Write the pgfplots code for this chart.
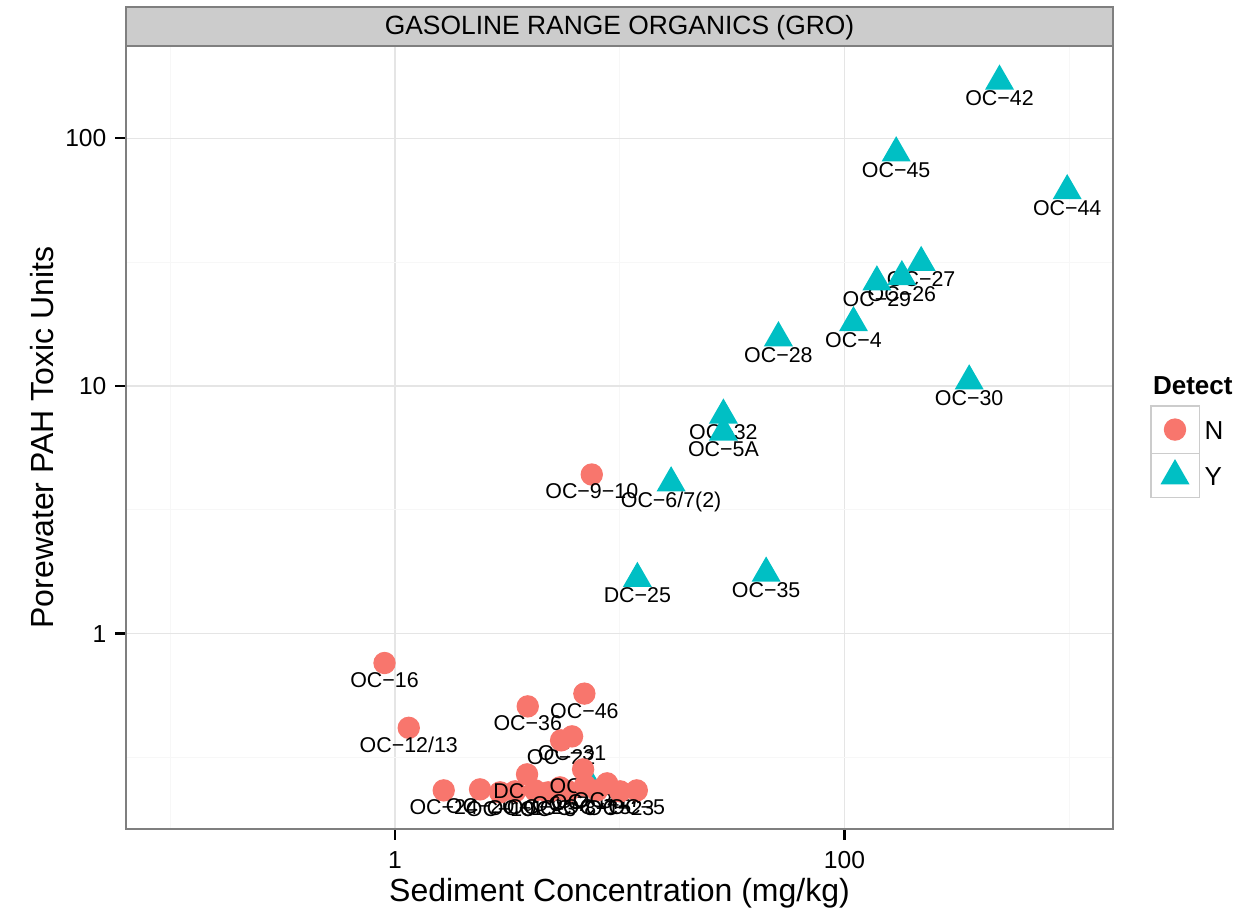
\documentclass[border=0pt]{standalone}
\usepackage{fontspec}
\setmainfont{Liberation Sans}
\usepackage{pgfplots}
\pgfplotsset{compat=1.18}
\definecolor{gN}{HTML}{F8766D}
\definecolor{gY}{HTML}{00BFC4}
\definecolor{grey50}{HTML}{7F7F7F}
\definecolor{grey80}{HTML}{CCCCCC}
\definecolor{grey90}{HTML}{E5E5E5}
\definecolor{grey98}{HTML}{F7F7F7}
\pgfdeclareplotmark{gcirc}{\pgfpathcircle{\pgfpointorigin}{5.6bp}\pgfusepathqfill}
\pgfdeclareplotmark{gtri}{\pgfpathmoveto{\pgfpoint{0bp}{8.4bp}}\pgfpathlineto{\pgfpoint{-7.25bp}{-4.2bp}}\pgfpathlineto{\pgfpoint{7.25bp}{-4.2bp}}\pgfpathclose\pgfusepathqfill}
\newcommand{\lbl}{\fontsize{10.7bp}{12bp}\selectfont}
\begin{document}
\begin{tikzpicture}
% facet strip
\filldraw[fill=grey80, draw=grey50, line width=1bp] (0bp,391.5bp) rectangle (493.5bp,410.75bp);
\node[anchor=base, inner sep=0pt, font=\fontsize{13.2bp}{15bp}\selectfont] at (246.75bp,397bp) {GASOLINE RANGE ORGANICS (GRO)};
\begin{axis}[
  at={(0,0)}, anchor=south west,
  scale only axis, width=493.5bp, height=391.5bp,
  xmode=log, ymode=log,
  xmin=0.0635, xmax=1567, ymin=0.1625, ymax=236,
  xtick={1,100}, xticklabels={1,100},
  ytick={1,10,100}, yticklabels={1,10,100},
  minor xtick={0.1,10,1000}, minor ytick={0.31623,3.1623,31.623},
  grid=both,
  major grid style={draw=grey90, line width=0.55bp},
  minor grid style={draw=grey98, line width=0.5bp},
  tick align=outside, major tick length=5.3bp, minor tick length=0pt,
  xtick pos=left, ytick pos=left,
  tick style={black, line width=1.1bp},
  axis line style={draw=grey50, line width=1.1bp},
  ticklabel style={font=\fontsize{12.3bp}{14bp}\selectfont},
  xticklabel style={yshift=-2.5bp},
  yticklabel style={xshift=-1bp},
  point meta=explicit symbolic,
  nodes near coords,
  nodes near coords style={anchor=base, yshift=-12.2bp, font=\lbl, inner sep=0pt, text=black},
]
\addplot[only marks, mark=gtri, color=gY] coordinates {
(489.8,170.1) [OC−42]
(169.9,87.3) [OC−45]
(980,61.4) [OC−44]
(219.5,31.5) [OC−27]
(180.1,27.6) [OC−26]
(139.4,26.3) [OC−29]
(109.7,17.99) [OC−4]
(50.84,15.64) [OC−28]
(359,10.47) [OC−30]
(28.93,7.62) [OC−32]
(28.93,6.51) [OC−5A]
(16.93,4.059) [OC−6/7(2)]
(11.98,1.668) [DC−25]
(44.82,1.753) [OC−35]
(7.38,0.246) [OC−33]
};
\addplot[only marks, mark=gcirc, color=gN] coordinates {
(0.898,0.7606) [OC−16]
(1.151,0.4163) [OC−12/13]
(3.896,0.5083) [OC−36]
(6.960,0.5722) [OC−46]
(6.136,0.3846) [OC−31]
(5.483,0.3705) [OC−22]
(7.508,4.389) [OC−9−10]
(1.647,0.2327) [OC−24]
(2.390,0.2349) [OC−20]
(2.934,0.2285) [OC−19]
(3.421,0.2306) [OC−1]
(3.869,0.2701) [DC−18]
(4.201,0.2327) [OC−2]
(4.799,0.2285) [OC−3]
(5.427,0.2393) [OC−7]
(5.890,0.2306) [OC−8]
(6.869,0.2829) [OC−11]
(7.011,0.2438) [OC−14]
(7.929,0.2327) [OC−15]
(8.784,0.2484) [OC−17]
(10.04,0.2306) [OC−23]
(11.91,0.2327) [OC−5]
};
\end{axis}
% axis titles
\node[anchor=base, inner sep=0pt, font=\fontsize{16bp}{18bp}\selectfont] at (246.75bp,-36.35bp) {Sediment Concentration (mg/kg)};
\node[anchor=base, rotate=90, inner sep=0pt, font=\fontsize{16bp}{18bp}\selectfont] at (-36.5bp,195.75bp) {Porewater PAH Toxic Units};
% legend
\node[anchor=base west, inner sep=0pt, font=\fontsize{13bp}{15bp}\selectfont\bfseries] at (513.35bp,217.35bp) {Detect};
\draw[grey80, line width=0.75bp, fill=white] (512.5bp,187.85bp) rectangle (536.65bp,211.5bp);
\draw[grey80, line width=0.75bp, fill=white] (512.5bp,165.85bp) rectangle (536.65bp,187.85bp);
\fill[gN] (524.5bp,199.7bp) circle[radius=5.6bp];
\fill[gY] (524.5bp,184.95bp) -- (517.25bp,172.35bp) -- (531.75bp,172.35bp) -- cycle;
\node[anchor=base west, inner sep=0pt, font=\fontsize{13bp}{15bp}\selectfont] at (539.15bp,194.5bp) {N};
\node[anchor=base west, inner sep=0pt, font=\fontsize{13bp}{15bp}\selectfont] at (539.15bp,171.5bp) {Y};
\pgfresetboundingbox
\path (-63bp,-41bp) rectangle (557bp,414.5bp);
\end{tikzpicture}
\end{document}
